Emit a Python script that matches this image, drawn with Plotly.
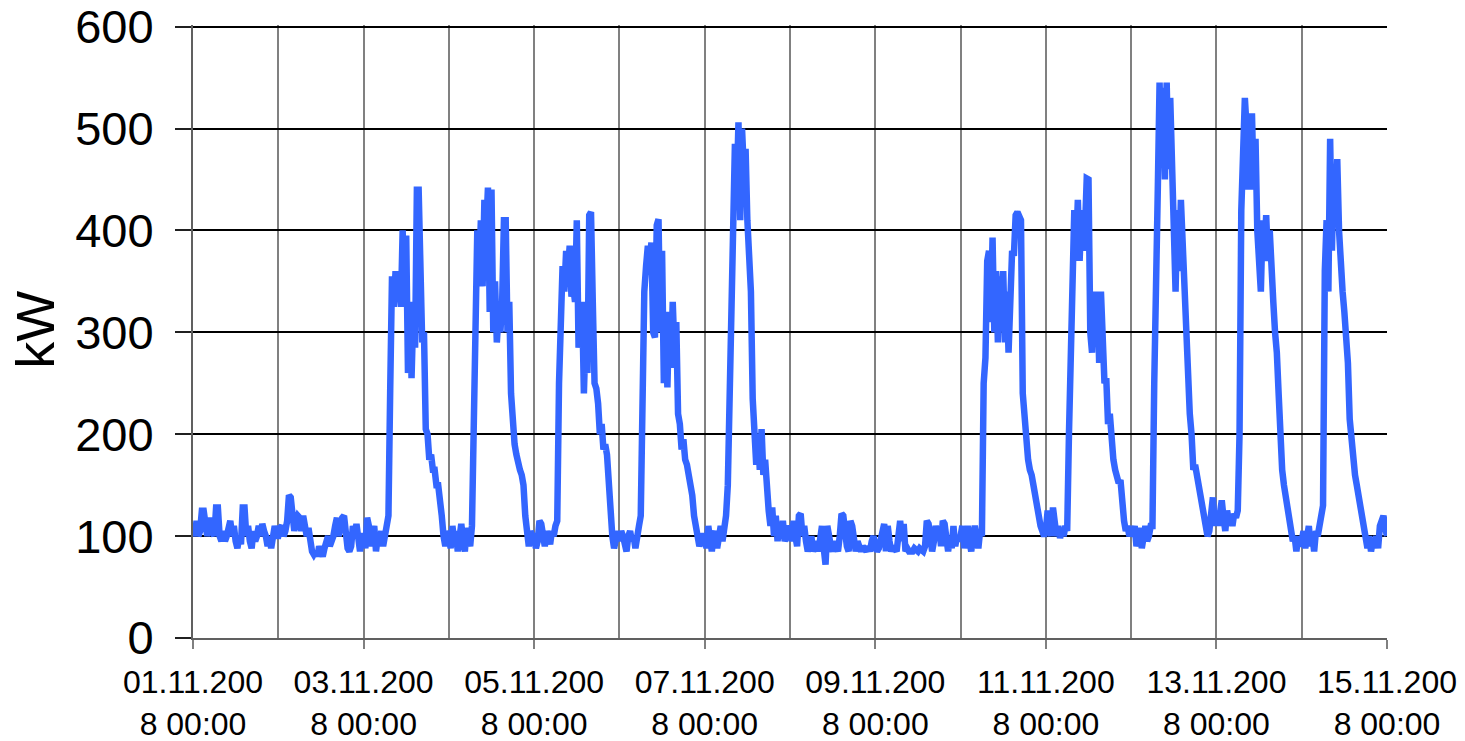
import pandas as pd
import plotly.graph_objects as go

# Half-hourly load in kW, one list per day (00:00, 00:30, ... 23:30)
day_01_11 = [110, 100, 115, 100, 105, 125, 125, 105, 100, 110, 118, 105, 100, 128, 128, 100,
             95, 105, 95, 100, 110, 115, 100, 110, 95, 88, 100, 92, 128, 128, 100, 110,
             95, 88, 105, 95, 100, 110, 100, 112, 105, 100, 90, 100, 88, 105, 110, 100]
day_02_11 = [100, 108, 110, 100, 105, 115, 140, 138, 110, 105, 115, 120, 118, 105, 120, 110,
             100, 108, 95, 85, 82, 85, 80, 90, 85, 80, 88, 95, 100, 90, 95, 100,
             110, 118, 100, 115, 118, 120, 95, 88, 85, 90, 110, 100, 112, 90, 85, 100]
day_03_11 = [100, 88, 118, 110, 90, 100, 110, 85, 100, 95, 105, 90, 100, 110, 120, 245,
             355, 325, 360, 330, 350, 325, 400, 330, 395, 260, 330, 255, 320, 285, 440, 440,
             370, 290, 300, 205, 200, 175, 180, 165, 165, 150, 150, 125, 120, 100, 90, 105]
day_04_11 = [100, 88, 110, 95, 105, 85, 100, 112, 95, 85, 108, 100, 90, 110, 235, 360,
             400, 350, 410, 345, 430, 400, 442, 320, 440, 300, 350, 290, 320, 300, 330, 410,
             410, 300, 330, 240, 200, 190, 180, 170, 165, 160, 150, 120, 100, 90, 105, 100]
day_05_11 = [100, 88, 95, 115, 112, 100, 90, 105, 100, 92, 105, 100, 110, 115, 250, 335,
             365, 340, 380, 360, 385, 335, 345, 330, 410, 285, 300, 330, 240, 300, 260, 415,
             418, 330, 250, 245, 230, 200, 210, 185, 190, 180, 150, 115, 100, 88, 95, 105]
day_06_11 = [95, 105, 100, 88, 85, 100, 105, 95, 100, 88, 105, 110, 120, 250, 340, 365,
             385, 370, 388, 300, 295, 405, 411, 300, 380, 250, 300, 246, 320, 265, 330, 280,
             310, 220, 210, 185, 195, 175, 170, 160, 150, 140, 120, 110, 100, 90, 95, 100]
day_07_11 = [100, 88, 110, 95, 85, 100, 105, 88, 100, 110, 95, 110, 120, 150, 240, 370,
             420, 485, 440, 506, 410, 500, 460, 480, 410, 360, 340, 235, 205, 170, 200, 165,
             205, 160, 175, 140, 125, 110, 128, 100, 120, 95, 110, 100, 115, 95, 100, 110]
day_08_11 = [105, 95, 115, 100, 90, 120, 122, 100, 110, 95, 85, 92, 100, 85, 90, 95,
             85, 100, 110, 88, 72, 110, 95, 90, 85, 95, 90, 85, 100, 122, 120, 95,
             90, 85, 115, 110, 90, 85, 95, 88, 85, 90, 88, 85, 90, 85, 95, 100]
day_09_11 = [90, 85, 88, 95, 100, 112, 85, 110, 95, 85, 90, 88, 85, 100, 115, 95,
             112, 85, 88, 85, 85, 85, 88, 85, 85, 88, 85, 85, 90, 115, 112, 88,
             85, 95, 110, 100, 108, 90, 115, 112, 95, 85, 100, 88, 110, 90, 100, 95]
day_10_11 = [100, 110, 88, 105, 110, 95, 85, 100, 110, 100, 88, 105, 100, 250, 275, 370,
             380, 310, 393, 300, 360, 290, 355, 330, 360, 290, 340, 280, 340, 380, 375, 415,
             418, 415, 410, 240, 215, 195, 175, 165, 160, 150, 140, 125, 120, 110, 105, 100]
day_11_11 = [105, 125, 110, 100, 128, 105, 100, 110, 98, 108, 100, 110, 105, 200, 290, 355,
             420, 380, 430, 370, 420, 380, 400, 451, 450, 300, 280, 340, 290, 340, 270, 340,
             300, 250, 255, 210, 220, 180, 175, 165, 160, 152, 155, 130, 115, 105, 110, 100]
day_12_11 = [105, 100, 110, 90, 100, 108, 88, 100, 110, 95, 100, 110, 110, 250, 400, 440,
             545, 470, 540, 450, 545, 460, 530, 440, 410, 340, 420, 360, 430, 380, 360, 300,
             255, 220, 200, 165, 170, 160, 150, 140, 130, 120, 110, 100, 105, 125, 138, 110]
day_13_11 = [125, 110, 120, 135, 118, 105, 125, 115, 120, 110, 122, 118, 125, 200, 420, 475,
             530, 500, 440, 480, 515, 440, 490, 400, 360, 340, 410, 380, 415, 370, 400, 340,
             330, 300, 280, 240, 180, 165, 150, 140, 130, 120, 110, 95, 100, 85, 100, 90]
day_14_11 = [95, 105, 88, 100, 110, 90, 100, 85, 105, 100, 110, 120, 130, 360, 410, 340,
             490, 380, 460, 420, 470, 400, 350, 340, 320, 300, 270, 215, 190, 180, 160, 150,
             140, 125, 120, 105, 95, 88, 100, 85, 95, 90, 100, 88, 110, 115, 120, 108]
end_value = [100]

tick_dates = ["2008-11-01", "2008-11-03", "2008-11-05", "2008-11-07",
              "2008-11-09", "2008-11-11", "2008-11-13", "2008-11-15"]
tick_labels = ["01.11.200<br>8 00:00", "03.11.200<br>8 00:00", "05.11.200<br>8 00:00",
               "07.11.200<br>8 00:00", "09.11.200<br>8 00:00", "11.11.200<br>8 00:00",
               "13.11.200<br>8 00:00", "15.11.200<br>8 00:00"]
y_ticks = [0, 100, 200, 300, 400, 500, 600]
y_title = "kW"

values = (day_01_11 + day_02_11 + day_03_11 + day_04_11 + day_05_11 + day_06_11 + day_07_11
          + day_08_11 + day_09_11 + day_10_11 + day_11_11 + day_12_11 + day_13_11 + day_14_11
          + end_value)
times = pd.date_range("2008-11-01 00:00", periods=len(values), freq="30min")

fig = go.Figure(go.Scatter(x=times, y=values, mode="lines",
                           line=dict(color="#3366FF", width=6.5)))

font = "Liberation Sans, Arial, sans-serif"
fig.update_layout(
    width=1457, height=733,
    margin=dict(l=185, r=78, t=17, b=103, autoexpand=False),
    paper_bgcolor="white", plot_bgcolor="white",
    showlegend=False,
    font=dict(family=font, color="black"),
)
fig.add_annotation(text=y_title, xref="paper", yref="paper", x=-0.1323, y=0.503,
                   textangle=-90, showarrow=False, xanchor="center", yanchor="middle",
                   font=dict(size=54, family=font, color="black"))
fig.update_xaxes(
    type="date",
    range=["2008-11-01", "2008-11-15"],
    tickvals=tick_dates, ticktext=tick_labels,
    tickfont=dict(size=32, family=font, color="black"),
    ticks="outside", ticklen=9, tickwidth=2, tickcolor="#808080",
    showgrid=True, gridcolor="#808080", gridwidth=2,
    minor=dict(dtick=86400000, showgrid=True, gridcolor="#808080", gridwidth=2, ticks=""),
    showline=True, linecolor="#606060", linewidth=2,
    zeroline=False, ticklabelstandoff=6, ticklabeloverflow="allow",
)
fig.update_yaxes(
    range=[0, 601.6], tickvals=y_ticks,
    tickfont=dict(size=47, family=font, color="black"),
    ticks="outside", ticklen=16, tickwidth=2, tickcolor="#202020",
    showgrid=True, gridcolor="black", gridwidth=1.5,
    showline=True, linecolor="#606060", linewidth=2,
    zeroline=False, ticklabelstandoff=12, ticklabeloverflow="allow",
)

fig.write_html("out.html")
